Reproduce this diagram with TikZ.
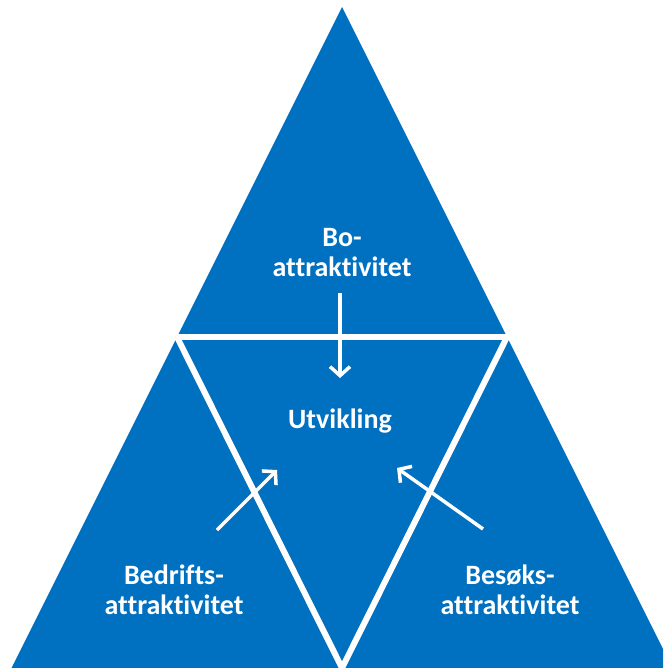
\documentclass[tikz,border=0pt]{standalone}
\usepackage{fontspec}
\setmainfont{Carlito}[Ligatures=NoCommon]
\usetikzlibrary{arrows.meta}
\definecolor{officeblue}{HTML}{0070C0}
\tikzset{
	lbl/.style={text=white,font=\bfseries\fontsize{28}{30}\selectfont,align=center,inner sep=0pt},
	divider/.style={white,line width=6pt},
	pointer/.style={white,line width=3.5pt,-{Straight Barb[length=9pt,width=20pt]}}
}
\begin{document}
\begin{tikzpicture}[x=1pt,y=-1pt]
	\useasboundingbox (0,0) rectangle (663,668);
	\clip (0,0) rectangle (663,668);
	\fill[officeblue] (342,7) -- (11.5,668) -- (672.5,668) -- cycle;
	% inner triangle
	\coordinate (l) at (177,337);
	\coordinate (r) at (507,337);
	\coordinate (b) at (342,668);
	\draw[divider] (l) -- (r);
	\draw[divider] (l) -- (b);
	\draw[divider] (r) -- (b);
	\node[lbl] (bo) at (342,253) {Bo-\\attraktivitet};
	\node[lbl] (utv) at (340,421) {Utvikling};
	\node[lbl] (bedr) at (174,590) {Bedrifts-\\attraktivitet};
	\node[lbl] (besok) at (510,590) {Besøks-\\attraktivitet};
	\coordinate (bo1) at (340,293);
	\coordinate (bo2) at (340,378);
	\coordinate (be1) at (217,530);
	\coordinate (be2) at (277,470);
	\coordinate (bs1) at (483,529);
	\coordinate (bs2) at (397,468);
	\draw[pointer] (bo1) -- (bo2);
	\draw[pointer] (be1) -- (be2);
	\draw[pointer] (bs1) -- (bs2);
\end{tikzpicture}
\end{document}
